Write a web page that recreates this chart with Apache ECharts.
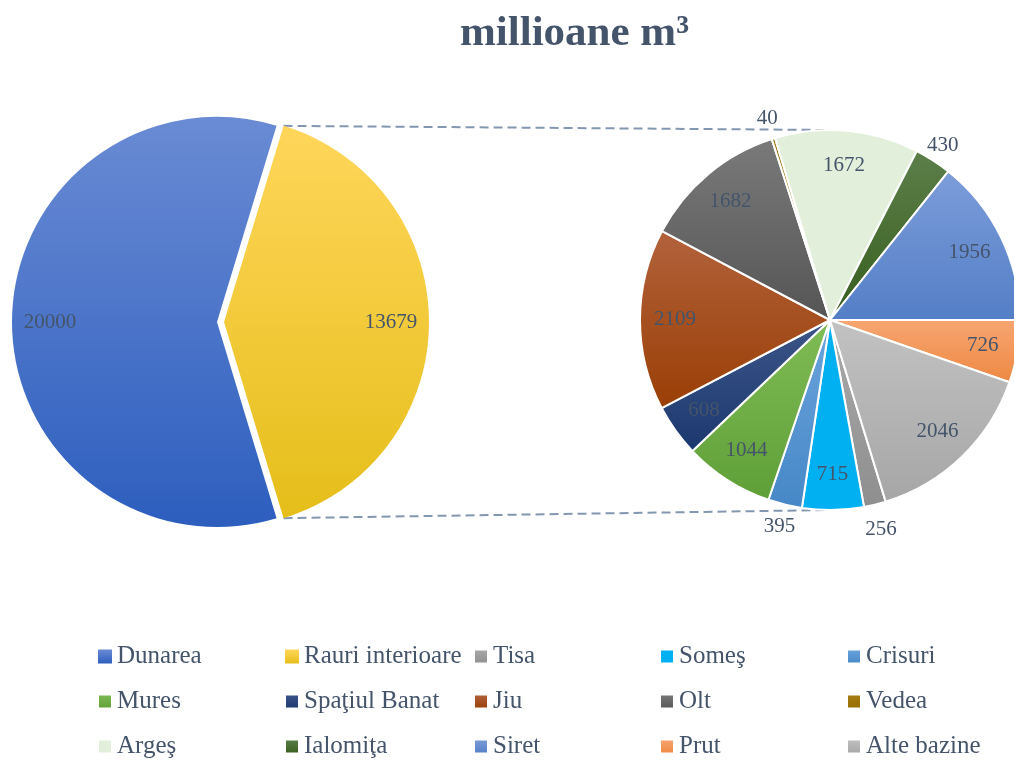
<!DOCTYPE html>
<html>
<head>
<meta charset="utf-8">
<script src="https://cdn.jsdelivr.net/npm/echarts@6/dist/echarts.min.js"></script>
<style>
html, body { margin: 0; padding: 0; background: #ffffff; }
#chart { width: 1014px; height: 760px; }
</style>
</head>
<body>
<div id="chart"></div>
<script>
// primul pie: total pe surse
var mainNames = ['Dunarea', 'Rauri interioare'];
var mainValues = [20000, 13679];

// al doilea pie: detaliu rauri interioare
var subNames = ['Tisa', 'Someş', 'Crisuri', 'Mures', 'Spaţiul Banat', 'Jiu', 'Olt', 'Vedea', 'Argeş', 'Ialomiţa', 'Siret', 'Prut', 'Alte bazine'];
var subValues = [256, 715, 395, 1044, 608, 2109, 1682, 40, 1672, 430, 1956, 726, 2046];

// culori (sus -> jos, gradient)
var colors = {
    'Dunarea': ['#6a8bd4', '#2d5ebe'],
    'Rauri interioare': ['#ffd65a', '#e5be1a'],
    'Tisa': ['#ababab', '#8e8e8e'],
    'Someş': ['#00b0f0', '#00b0f0'],
    'Crisuri': ['#6ca5dd', '#4687c7'],
    'Mures': ['#80bc56', '#5f9f38'],
    'Spaţiul Banat': ['#3d5689', '#1b386e'],
    'Jiu': ['#b2623c', '#9a3e05'],
    'Olt': ['#7a7a7a', '#555555'],
    'Vedea': ['#a67c18', '#976f00'],
    'Argeş': ['#e2efda', '#e2efda'],
    'Ialomiţa': ['#5c7f4a', '#385e1e'],
    'Siret': ['#7d9dda', '#537ec6'],
    'Prut': ['#f7a672', '#ee8842'],
    'Alte bazine': ['#c2c2c2', '#a6a6a6']
};

// etichete puse in afara feliilor mici (lungime linie invizibila)
var outsideLen = { 'Vedea': 21, 'Ialomiţa': 18, 'Crisuri': 23, 'Tisa': 26 };

var font = 'Liberation Serif';
var txtColor = '#44546a';

var leftC = [217, 322], leftR = 205, pop = 7;
var rightC = [830, 320], rightR = 190;

function grad(name) {
    var c = colors[name];
    return {
        type: 'linear', x: 0, y: 0, x2: 0, y2: 1,
        colorStops: [{ offset: 0, color: c[0] }, { offset: 1, color: c[1] }]
    };
}

var mainTotal = mainValues[0] + mainValues[1];
var halfAngle = mainValues[1] / mainTotal * 180;   // felia galbena centrata pe 0 grade
var subTotal = subValues.reduce(function (a, b) { return a + b; }, 0);
// Prut incepe la ora 3
var subStart = -(subValues[11] + subValues[12]) / subTotal * 360;

var mainData = mainNames.map(function (n, i) {
    return { name: n, value: mainValues[i], selected: i === 1, itemStyle: { color: grad(n) } };
});
var mainLabelData = mainNames.map(function (n, i) {
    return { name: n, value: mainValues[i], selected: i === 1 };
});
var subData = subNames.map(function (n, i) {
    return { name: n, value: subValues[i], itemStyle: { color: grad(n) } };
});
var subLabelData = subNames.map(function (n, i) {
    var d = { name: n, value: subValues[i] };
    if (outsideLen[n] != null) {
        d.label = { position: 'outside' };
        d.labelLine = { show: false, length: outsideLen[n], length2: 0 };
    }
    return d;
});

var labelStyle = {
    show: true,
    position: 'inside',
    formatter: '{c}',
    fontFamily: font,
    fontSize: 21,
    color: txtColor,
    distanceToLabelLine: 0
};

// legenda pe 5 coloane
var allNames = mainNames.concat(subNames);
var colX = [97, 284, 473, 659, 846];
var legends = colX.map(function (x, c) {
    return {
        data: allNames.filter(function (n, i) { return i % 5 === c; }),
        orient: 'vertical',
        left: x,
        top: 644,
        padding: 0,
        itemWidth: 14,
        itemHeight: 14,
        itemGap: 20,
        icon: 'rect',
        selectedMode: false,
        textStyle: { fontFamily: font, fontSize: 25, color: txtColor, lineHeight: 25 }
    };
});

// liniile de legatura intre cele doua pie-uri
var a = halfAngle * Math.PI / 180;
var lx = leftC[0] + pop + leftR * Math.cos(a);
var lyTop = leftC[1] - leftR * Math.sin(a);
var lyBot = leftC[1] + leftR * Math.sin(a);
var dash = { stroke: '#8497b0', lineWidth: 2, lineDash: [9, 5] };

var chart = echarts.init(document.getElementById('chart'));
chart.setOption({
    animation: false,
    title: {
        text: 'millioane m³',
        left: 455,
        top: 7,
        textStyle: { fontFamily: font, fontWeight: 'bold', fontSize: 43, color: txtColor }
    },
    legend: legends,
    graphic: [
        { type: 'line', z: 0, shape: { x1: lx, y1: lyTop, x2: rightC[0], y2: rightC[1] - rightR }, style: dash },
        { type: 'line', z: 0, shape: { x1: lx, y1: lyBot, x2: rightC[0], y2: rightC[1] + rightR }, style: dash }
    ],
    series: [
        {
            type: 'pie',
            center: leftC,
            radius: [0, leftR],
            startAngle: -halfAngle,
            selectedMode: 'single',
            selectedOffset: pop,
            silent: true,
            label: { show: false },
            labelLine: { show: false },
            data: mainData
        },
        {
            type: 'pie',
            center: rightC,
            radius: [0, rightR],
            startAngle: subStart,
            silent: true,
            itemStyle: { borderColor: '#ffffff', borderWidth: 2 },
            label: { show: false },
            labelLine: { show: false },
            data: subData
        },
        // serii transparente doar pentru etichete (la ~0.8 din raza)
        {
            type: 'pie',
            center: leftC,
            radius: [leftR * 0.6, leftR],
            startAngle: -halfAngle,
            selectedMode: 'single',
            selectedOffset: pop,
            silent: true,
            avoidLabelOverlap: false,
            itemStyle: { color: 'rgba(0,0,0,0)' },
            label: labelStyle,
            labelLine: { show: false },
            data: mainLabelData
        },
        {
            type: 'pie',
            center: rightC,
            radius: [rightR * 0.6, rightR],
            startAngle: subStart,
            silent: true,
            avoidLabelOverlap: false,
            itemStyle: { color: 'rgba(0,0,0,0)' },
            label: labelStyle,
            labelLine: { show: false },
            labelLayout: { align: 'center' },
            data: subLabelData
        }
    ]
});
</script>
</body>
</html>
